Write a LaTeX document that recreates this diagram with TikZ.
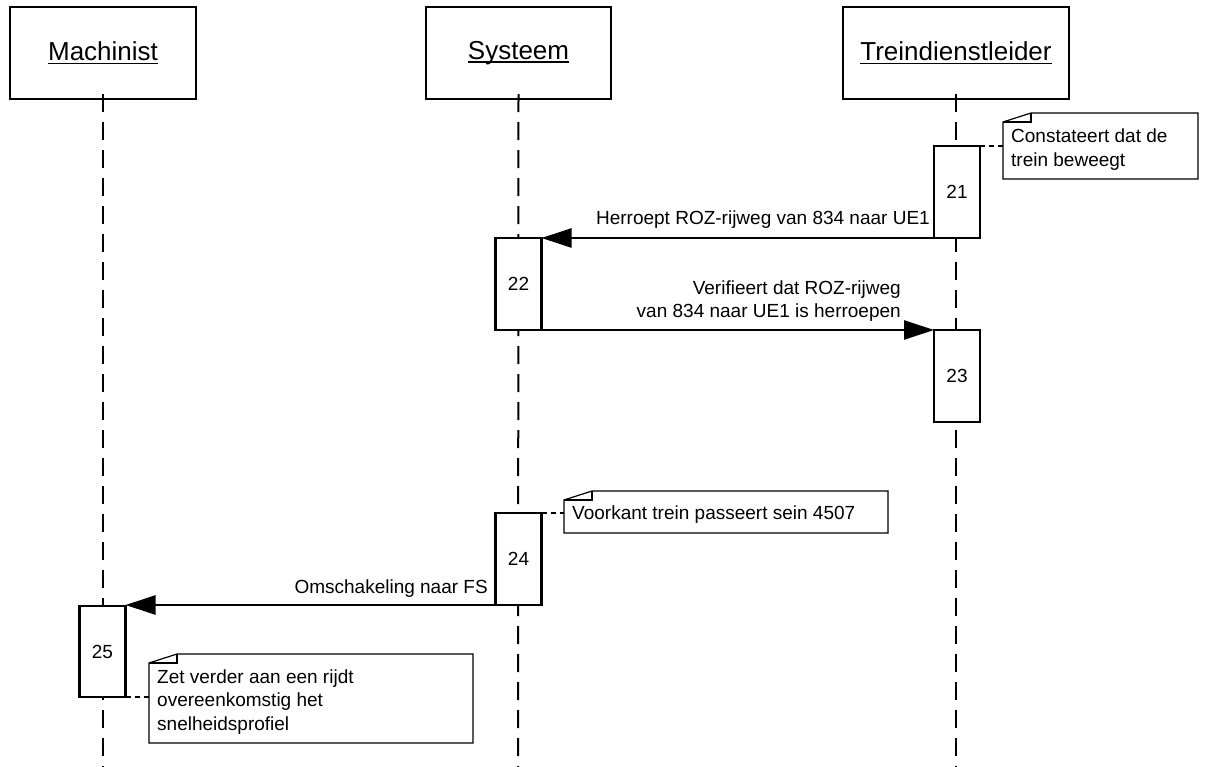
\documentclass[tikz,border=0pt]{standalone}
\usepackage{fontspec}
\setmainfont{Liberation Sans}
\usetikzlibrary{arrows.meta,calc}

% underlined actor name
\newcommand\hdrline[1]{\leavevmode\setbox0\hbox{#1}\rlap{\rule[-3.5pt]{\wd0}{1.6pt}}\box0}

% sequence-diagram pieces
\tikzset{
  actor/.style={draw, line width=2.2pt, inner sep=0pt, minimum height=92pt,
    font=\fontsize{26}{30}\selectfont},
  lifeline/.style={line width=2pt, dash pattern=on 18pt off 10pt},
  activation/.style={draw, fill=white, line width=2.2pt, inner sep=0pt, outer sep=0pt,
    minimum width=46pt, minimum height=92pt, font=\fontsize{19}{23}\selectfont},
  msg/.style={line width=2.6pt, -{Triangle[length=30pt,width=19pt]}},
  msglabel/.style={inner sep=0pt, align=right, font=\fontsize{19}{23.5}\selectfont},
  notebox/.style={inner sep=0pt, outer sep=0pt, anchor=north west},
  notetext/.style={inner sep=0pt, align=left, anchor=west,
    font=\fontsize{19}{23.5}\selectfont},
  noteline/.style={line width=1.2pt},
  notelink/.style={line width=1.1pt, dash pattern=on 5pt off 4pt},
}

% folded-corner outline around a note node
\newcommand\dogear[1]{%
  \draw[noteline] ($(#1.north west)+(0,9)$) -- ($(#1.north west)+(28,0)$)
    -- (#1.north east) -- (#1.south east) -- (#1.south west) -- cycle;
  \draw[noteline] ($(#1.north west)+(0,9)$) -- ($(#1.north west)+(28,9)$)
    -- ($(#1.north west)+(28,0)$);
}

\begin{document}
\begin{tikzpicture}[x=1pt, y=-1pt]
\useasboundingbox (0,0) rectangle (1216,767);

% actors
\node[actor, minimum width=186pt] (mach) at (103,53) {\hdrline{Machinist}};
\node[actor, minimum width=185pt] (sys)  at (518.5,53) {\hdrline{Systeem}};
\node[actor, minimum width=226pt] (tdl)  at (956,53) {\hdrline{Treindienstleider}};

% lifelines
\coordinate (machEnd) at (103,767);
\coordinate (sysEnd)  at (518,767);
\coordinate (tdlEnd)  at (956,767);
\draw[lifeline] ([yshift=6pt]mach.south) -- (machEnd);
\draw[lifeline] ([yshift=6pt]sys.south)  -- (sysEnd);
\draw[lifeline] ([yshift=6pt]tdl.south)  -- (tdlEnd);

% activations
\node[activation] (a21) at (957,192) {21};
\node[activation] (a22) at (518.5,284) {22};
\node[activation] (a23) at (957,376) {23};
\node[activation] (a24) at (518.5,559) {24};
\node[activation, minimum height=91pt] (a25) at (102.5,651.5) {25};

% messages
\draw[msg] (a21.south west) -- (a21.south west -| a22.east);
\node[msglabel, anchor=base east] (l1) at (930,224.5) {Herroept ROZ-rijweg van 834 naar UE1};
\draw[msg] (a22.south east) -- (a22.south east -| a23.west);
\node[msglabel, anchor=south east] (l2) at (901,322) {Verifieert dat ROZ-rijweg\\van 834 naar UE1 is herroepen};
\draw[msg] (a24.south west) -- (a24.south west -| a25.east);
\node[msglabel, anchor=base east] (l3) at (488,593.5) {Omschakeling naar FS};

% notes
\node[notebox, minimum width=195pt, minimum height=66pt] (n1) at (1003,113) {};
\dogear{n1}
\node[notetext] (n1t) at ($(n1.west)+(8,3.5)$) {Constateert dat de\\trein beweegt};
\draw[notelink] (a21.north east) -- (a21.north east -| n1.west);

\node[notebox, minimum width=324pt, minimum height=42pt] (n2) at (564,491) {};
\dogear{n2}
\node[notetext] (n2t) at ($(n2.west)+(8,3)$) {Voorkant trein passeert sein 4507};
\draw[notelink] (a24.north east) -- (a24.north east -| n2.west);

\node[notebox, minimum width=324pt, minimum height=89pt] (n3) at (149,654) {};
\dogear{n3}
\node[notetext] (n3t) at ($(n3.west)+(8,3.5)$) {Zet verder aan een rijdt\\overeenkomstig het\\snelheidsprofiel};
\draw[notelink] (a25.south east) -- (a25.south east -| n3.west);
\end{tikzpicture}
\end{document}
